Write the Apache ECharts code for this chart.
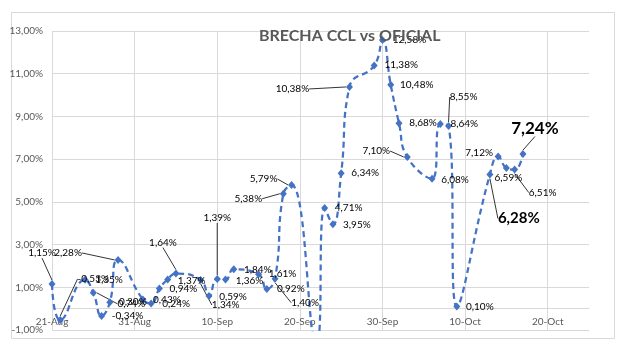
<!DOCTYPE html>
<html>
<head>
<meta charset="utf-8">
<script src="https://cdn.jsdelivr.net/npm/echarts@6/dist/echarts.min.js"></script>
<style>
html,body{margin:0;padding:0;background:#fff;}
#chart{width:625px;height:346px;}
</style>
</head>
<body>
<div id="chart"></div>
<script>
// ---- data ----
const titleText = 'BRECHA CCL vs OFICIAL';
const dates = [
  '2025-08-21','2025-08-22','2025-08-25','2025-08-26','2025-08-27','2025-08-28','2025-08-29',
  '2025-09-01','2025-09-02','2025-09-03','2025-09-04','2025-09-05',
  '2025-09-08','2025-09-09','2025-09-10','2025-09-11','2025-09-12',
  '2025-09-15','2025-09-16','2025-09-17','2025-09-18','2025-09-19',
  '2025-09-22','2025-09-23','2025-09-24','2025-09-25','2025-09-26',
  '2025-09-29','2025-09-30','2025-10-01','2025-10-02','2025-10-03',
  '2025-10-06','2025-10-07','2025-10-08','2025-10-09',
  '2025-10-13','2025-10-14','2025-10-15','2025-10-16','2025-10-17'
];
const brecha = [
  1.15,-0.53,1.35,0.74,-0.34,0.30,2.28,
  0.43,0.24,0.94,1.37,1.64,
  1.34,0.59,1.39,1.36,1.84,
  1.61,0.92,1.40,5.38,5.79,
  -1.70,4.71,3.95,6.34,10.38,
  11.38,12.58,10.48,8.68,7.10,
  6.08,8.64,8.55,0.10,
  6.28,7.12,6.59,6.51,7.24
];
const xStart = '2025-08-21';
const xEnd = '2025-10-25';
const yTicks = [-1, 1, 3, 5, 7, 9, 11, 13];
const monthNames = ['Jan','Feb','Mar','Apr','May','Jun','Jul','Aug','Sep','Oct','Nov','Dec'];

// ---- label styling (offsets relative to the point, leader flags) ----
const labelOffsets = [
  [-10,-31],[33,-41],[24,0],[38,11],[26,0],[23,0],[-50,-7],
  [24,0],[25,0],[24,0],[24,1],[-13,-31],
  [25,25],[24,1],[0,-61],[24,1],[24,0],
  [24,0],[24,0],[30,24],[-35,5],[-28,-6],
  null,[24,0],[24,0],[24,0],[-57,2],
  [27,-1],[27,0],[26,0],[24,0],[-31,-6],
  [23,1],[24,0],[15,-29],[23,0],
  [29,44],[-19,-4],[2,10],[28,23],[12,-26]
];
const leaderIdx = [0,1,3,6,11,12,14,19,20,21,26,31,34,36,39,40];
const bigLabel = {36: 15, 40: 17};

const DAY = 86400000;
const toTs = s => Date.parse(s + 'T00:00:00Z');
const fmtPct = v => v.toFixed(2).replace('.', ',') + '%';
const BLUE = '#4472C4';
const FONT = 'Lato, "Liberation Sans", sans-serif';

const seriesData = dates.map((d, i) => {
  const item = { value: [toTs(d), brecha[i]] };
  const off = labelOffsets[i];
  if (!off) {
    item.label = { show: false };
  } else if (bigLabel[i]) {
    item.label = { fontSize: bigLabel[i], fontWeight: 'bold' };
  }
  if (leaderIdx.indexOf(i) >= 0) {
    item.labelLine = { show: true, lineStyle: { color: '#000', width: 0.8 } };
  }
  return item;
});

const chart = echarts.init(document.getElementById('chart'), null, { renderer: 'canvas' });
chart.setOption({
  animation: false,
  backgroundColor: '#fff',
  title: {
    text: titleText,
    left: 259, top: 26, padding: 0,
    textStyle: { fontFamily: FONT, fontSize: 16, fontWeight: 'bold', color: '#595959', lineHeight: 20 }
  },
  graphic: [{
    type: 'rect', z: -10, silent: true,
    shape: { x: 11.5, y: 12.5, width: 603, height: 326 },
    style: { fill: 'none', stroke: '#d9d9d9', lineWidth: 1 }
  }],
  grid: { left: 52, right: 36, top: 31, bottom: 16, containLabel: false },
  xAxis: {
    type: 'value',
    min: toTs(xStart), max: toTs(xEnd), interval: 10 * DAY,
    axisLine: { onZero: true, lineStyle: { color: '#d9d9d9', width: 1 } },
    axisTick: { show: false },
    axisLabel: {
      showMaxLabel: false,
      color: '#595959', fontFamily: FONT, fontSize: 10, margin: -13,
      formatter: v => { const d = new Date(v); return d.getUTCDate() + '-' + monthNames[d.getUTCMonth()]; }
    },
    splitLine: { show: true, showMaxLine: false, lineStyle: { color: '#d9d9d9', width: 1 } }
  },
  yAxis: {
    type: 'value',
    min: yTicks[0], max: yTicks[yTicks.length - 1], interval: yTicks[1] - yTicks[0],
    axisLine: { show: false },
    axisTick: { show: false },
    axisLabel: { color: '#595959', fontFamily: FONT, fontSize: 10, margin: 9, formatter: v => fmtPct(v) },
    splitLine: { show: true, lineStyle: { color: '#d9d9d9', width: 1 } }
  },
  series: [{
    type: 'line',
    data: seriesData,
    smooth: 0.5,
    clip: true,
    symbol: 'diamond',
    symbolSize: [7, 8],
    itemStyle: { color: BLUE },
    lineStyle: { color: BLUE, width: 2.25, type: [6, 4] },
    label: {
      show: true, position: 'inside',
      color: '#000', fontFamily: FONT, fontSize: 10,
      formatter: p => fmtPct(p.value[1])
    },
    labelLayout: p => {
      const o = labelOffsets[p.dataIndex];
      return o ? { dx: o[0], dy: o[1] } : {};
    },
    labelLine: { show: false, lineStyle: { color: '#000', width: 0.8 } },
    z: 2
  }]
});
</script>
</body>
</html>
